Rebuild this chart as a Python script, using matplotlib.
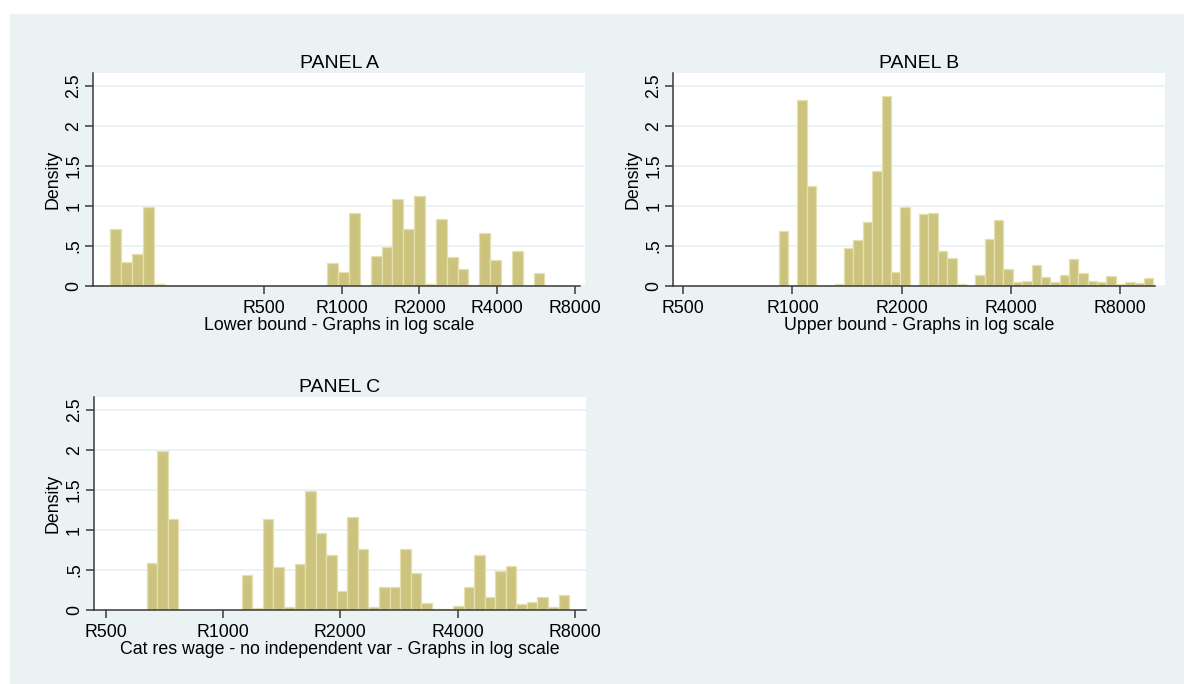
import numpy as np
import matplotlib
matplotlib.use("Agg")
import matplotlib.pyplot as plt

plt.rcParams['font.family'] = ['Liberation Sans', 'DejaVu Sans']

# density of each histogram bin (40 bins per panel)
heights_a = [0.71, 0.30, 0.40, 0.99, 0.025, 0, 0, 0, 0, 0,
             0, 0, 0, 0, 0, 0, 0, 0, 0, 0,
             0.29, 0.175, 0.91, 0, 0.375, 0.485, 1.085, 0.71, 1.125, 0.02,
             0.83, 0.365, 0.205, 0.01, 0.665, 0.32, 0, 0.43, 0, 0.165]
heights_b = [0.68, 0, 2.32, 1.25, 0, 0, 0.025, 0.475, 0.575, 0.795,
             1.43, 2.375, 0.17, 0.99, 0, 0.90, 0.915, 0.43, 0.345, 0.025,
             0, 0.14, 0.58, 0.825, 0.215, 0.05, 0.065, 0.26, 0.105, 0.045,
             0.135, 0.33, 0.16, 0.063, 0.045, 0.125, 0.017, 0.042, 0.03, 0.10]
heights_c = [0.59, 1.99, 1.14, 0, 0, 0, 0, 0, 0, 0.435,
             0.017, 1.13, 0.535, 0.04, 0.57, 1.48, 0.955, 0.69, 0.23, 1.16,
             0.755, 0.03, 0.285, 0.285, 0.76, 0.465, 0.085, 0.008, 0.008, 0.045,
             0.29, 0.68, 0.155, 0.49, 0.545, 0.07, 0.095, 0.155, 0.03, 0.19]

# first bin edge and bin width, in log wage
start_a, width_a = 4.840, 0.0969
start_b, width_b = 6.819, 0.0595
start_c, width_c = 6.4566, 0.0624

wage_ticks = [500, 1000, 2000, 4000, 8000]
tick_labels = ['R500', 'R1000', 'R2000', 'R4000', 'R8000']
y_ticks = [0, 0.5, 1, 1.5, 2, 2.5]
y_labels = ['0', '.5', '1', '1.5', '2', '2.5']

bg = '#EAF2F3'
bar_face = '#CCC47E'
bar_edge = '#E6E0AE'
axis_col = '#3a3a3a'

fig = plt.figure(figsize=(11.84, 6.84), dpi=100)
fig.patches.append(plt.Rectangle((10 / 1184, 0), 1 - 10 / 1184, 1 - 14 / 684,
                                 transform=fig.transFigure, color=bg, zorder=-5))

panels = [
    ("PANEL A", "Lower bound - Graphs in log scale", heights_a, start_a, width_a,
     [93.3 / 1184, 1 - 285.7 / 684, 491.7 / 1184, 212.4 / 684], (4.688, 9.079), 9.03),
    ("PANEL B", "Upper bound - Graphs in log scale", heights_b, start_b, width_b,
     [673.3 / 1184, 1 - 285.7 / 684, 491.7 / 1184, 212.4 / 684], (6.151, 9.273), 9.209),
    ("PANEL C", "Cat res wage - no independent var - Graphs in log scale", heights_c, start_c, width_c,
     [94 / 1184, 1 - 609.7 / 684, 492 / 1184, 212.4 / 684], (6.1455, 9.052), 9.052),
]

for title, xlabel, heights, start, width, rect, xlim, axis_end in panels:
    ax = fig.add_axes(rect)
    ax.set_facecolor('white')
    edges = start + width * np.arange(len(heights))
    ax.bar(edges, heights, width=width, align='edge', color=bar_face,
           edgecolor=bar_edge, linewidth=0.9, zorder=2)
    ax.set_xlim(*xlim)
    ax.set_ylim(0, 2.657)
    ax.set_xticks(np.log(wage_ticks))
    ax.set_xticklabels(tick_labels, fontsize=12.8)
    ax.set_yticks(y_ticks)
    ax.set_yticklabels(y_labels, fontsize=12.8, rotation=90, va='center')
    ax.yaxis.grid(True, color=bg, linewidth=1.3, zorder=0)
    ax.set_axisbelow(True)
    for s in ['top', 'right']:
        ax.spines[s].set_visible(False)
    for s in ['left', 'bottom']:
        ax.spines[s].set_color(axis_col)
        ax.spines[s].set_linewidth(1.1)
    ax.spines['bottom'].set_bounds(xlim[0], axis_end)
    ax.tick_params(axis='y', colors=axis_col, length=6, width=1.1, pad=2,
                   labelcolor='black')
    ax.tick_params(axis='x', colors=axis_col, length=6, width=1.1, pad=4,
                   labelcolor='black')
    ax.set_ylabel("Density", fontsize=12.8, labelpad=3)
    ax.set_xlabel(xlabel, fontsize=12.8, labelpad=0)
    ax.set_title(title, fontsize=14, pad=4)

fig.savefig("out.png", dpi=100)
